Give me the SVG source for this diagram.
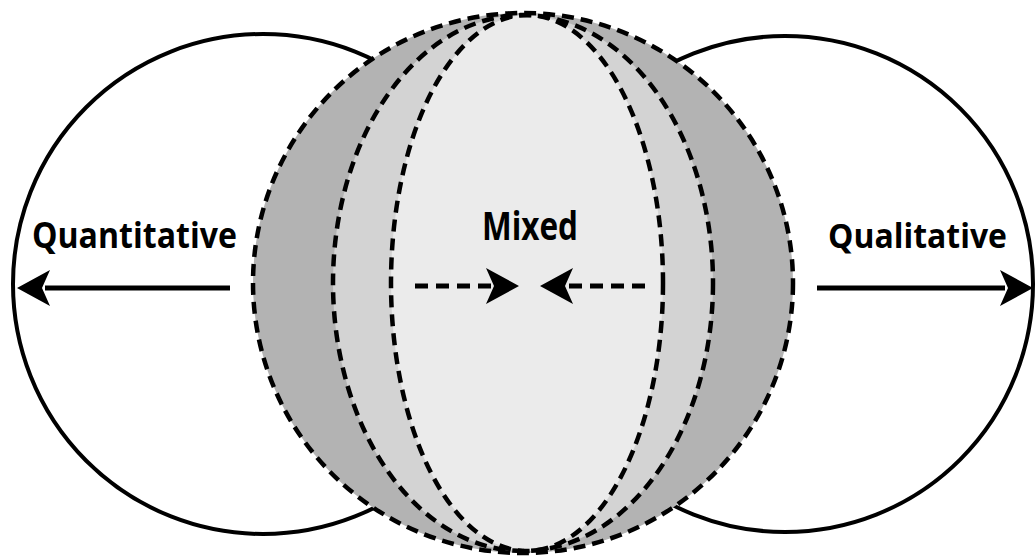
<svg xmlns="http://www.w3.org/2000/svg" width="1035" height="558" viewBox="0 0 1035 558">
  <style>
    .side { fill: #ffffff; stroke: #000; stroke-width: 4; }
    .dash { stroke: #000; stroke-width: 4.5; stroke-dasharray: 12 7; }
    .lbl { font-family: "Open Sans", "Liberation Sans", sans-serif; font-weight: 700; fill: #000; }
    .arrowline { stroke: #000; stroke-width: 5; fill: none; }
    .darrow { stroke: #000; stroke-width: 5; fill: none; stroke-dasharray: 13 8; }
  </style>
  <defs>
    <path id="head" d="M0,0 L-33,-18 L-25,0 L-33,18 Z" fill="#000"/>
  </defs>
  <rect width="1035" height="558" fill="#ffffff"/>
  <g id="quantitative">
    <circle class="side" cx="263" cy="284" r="250"/>
  </g>
  <g id="qualitative">
    <circle class="side" cx="785" cy="284" r="248"/>
  </g>
  <g id="mixed">
    <circle cx="523" cy="283" r="270" fill="#b3b3b3"/>
    <ellipse cx="523" cy="283" rx="190" ry="268" fill="#d3d3d3"/>
    <ellipse cx="527" cy="283" rx="136" ry="268" fill="#ebebeb"/>
    <circle class="dash" cx="523" cy="283" r="270" fill="none"/>
    <ellipse class="dash" cx="523" cy="283" rx="190" ry="268" fill="none"/>
    <ellipse class="dash" cx="527" cy="283" rx="136" ry="268" fill="none"/>
  </g>
  <g id="labels">
    <text class="lbl" x="32" y="248" font-size="36" textLength="205" lengthAdjust="spacingAndGlyphs">Quantitative</text>
    <text class="lbl" x="828" y="248" font-size="34" textLength="179" lengthAdjust="spacingAndGlyphs">Qualitative</text>
    <text class="lbl" x="482" y="240" font-size="40" textLength="96" lengthAdjust="spacingAndGlyphs">Mixed</text>
  </g>
  <g id="connectors">
    <line class="arrowline" x1="230" y1="288" x2="45" y2="288"/>
    <use href="#head" transform="translate(17,288) rotate(180)"/>
    <line class="arrowline" x1="817" y1="288" x2="1005" y2="288"/>
    <use href="#head" transform="translate(1033,288)"/>
    <line class="darrow" x1="415" y1="286" x2="492" y2="286"/>
    <use href="#head" transform="translate(519,286)"/>
    <line class="darrow" x1="645" y1="286" x2="567" y2="286"/>
    <use href="#head" transform="translate(540,286) rotate(180)"/>
  </g>
</svg>
